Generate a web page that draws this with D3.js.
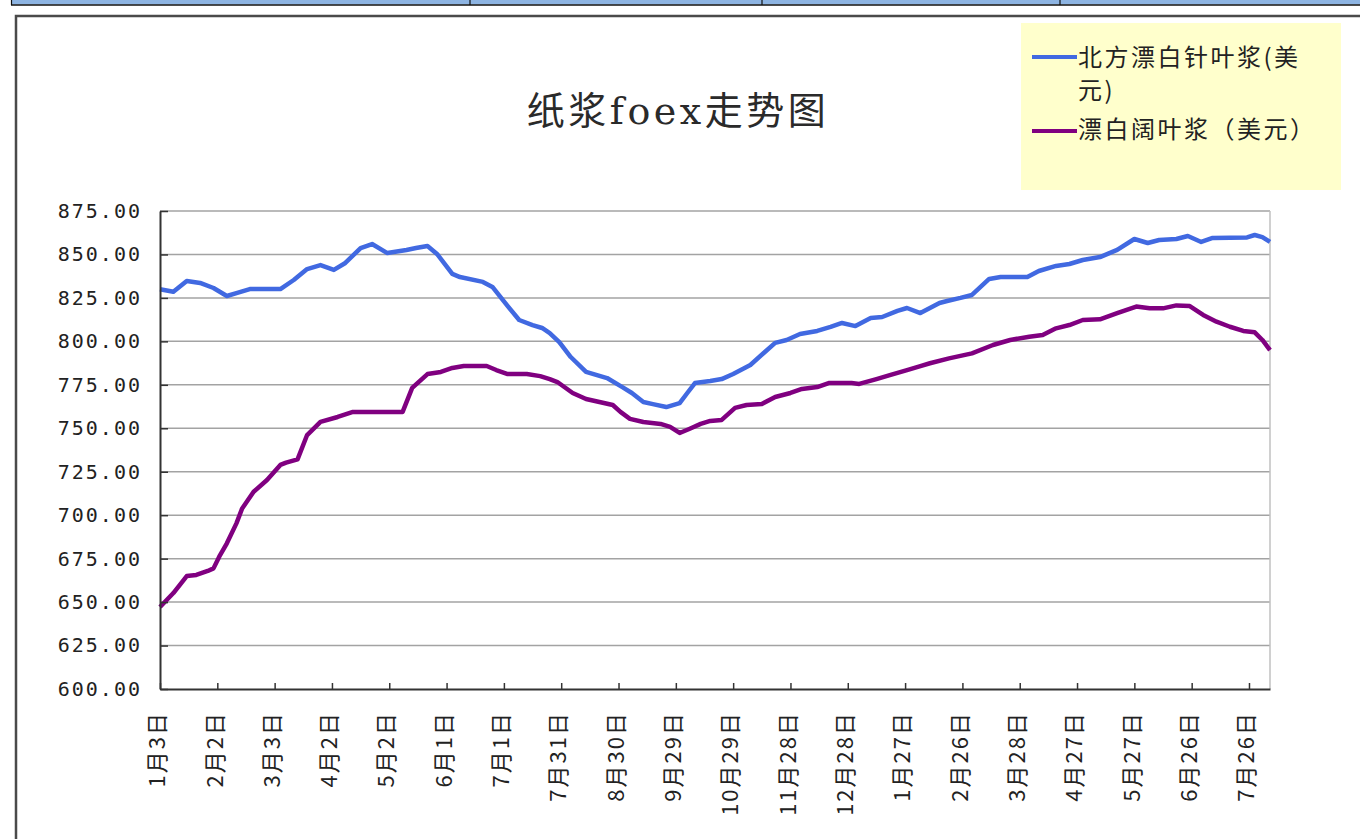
<!doctype html>
<html>
  <head>
    <meta charset="utf-8">
    <script src="https://d3js.org/d3.v7.min.js"></script>
    <style>
      body { margin: 0; background: #fff; }
      svg { display: block; }
      .ylab text { font-family: "DejaVu Sans Mono", monospace; font-size: 20px; letter-spacing: 2px; fill: #222; }
      .xlab text { font-family: "Noto Sans CJK SC", sans-serif; font-size: 22px; letter-spacing: 2px; fill: #222; }
    </style>
  </head>

  <body>
    <svg class="chart" width=1360 height=839></svg>

    <script>
      // readings
      var blueDates = ["2008-01-03","2008-01-10","2008-01-17","2008-01-24","2008-01-31","2008-02-07","2008-02-12","2008-02-19",
        "2008-03-06","2008-03-13","2008-03-20","2008-03-27","2008-04-03","2008-04-09","2008-04-17","2008-04-23","2008-05-01",
        "2008-05-11","2008-05-16","2008-05-22","2008-05-27","2008-06-04","2008-06-08","2008-06-20","2008-06-25","2008-07-03",
        "2008-07-09","2008-07-16","2008-07-21","2008-07-25","2008-07-30","2008-08-05","2008-08-13","2008-08-24","2008-09-01",
        "2008-09-06","2008-09-12","2008-09-17","2008-09-24","2008-10-01","2008-10-05","2008-10-09","2008-10-17","2008-10-23",
        "2008-10-29","2008-11-07","2008-11-14","2008-11-20","2008-11-26","2008-12-03","2008-12-12","2008-12-19","2008-12-25",
        "2009-01-01","2009-01-09","2009-01-15","2009-01-23","2009-01-28","2009-02-04","2009-02-09","2009-02-14","2009-02-18",
        "2009-02-25","2009-03-03","2009-03-12","2009-03-18","2009-04-01","2009-04-07","2009-04-16","2009-04-23","2009-04-30",
        "2009-05-09","2009-05-18","2009-05-27","2009-06-03","2009-06-09","2009-06-18","2009-06-24","2009-07-01","2009-07-07",
        "2009-07-25","2009-07-29","2009-08-02","2009-08-06"];
      var blueValues = [830.0,828.5,834.7,833.6,830.7,826.1,827.8,830.1,
        830.1,835.3,841.6,843.9,841.1,845.1,853.7,856.0,850.8,
        852.6,853.7,854.9,850.3,838.8,837.0,834.2,831.3,820.3,
        812.3,809.4,807.7,804.8,799.6,791.0,782.4,778.9,773.7,
        770.3,765.1,763.9,762.2,764.5,770.3,776.0,777.2,778.3,
        781.2,786.4,793.3,799.1,800.8,804.2,806.0,808.3,810.6,
        808.8,813.4,814.0,817.5,819.2,816.3,819.2,822.1,823.2,
        825.0,826.7,835.9,837.0,837.0,840.5,843.4,844.5,846.8,
        848.5,852.6,858.9,856.6,858.3,858.9,860.6,857.2,859.5,
        859.8,861.2,860.0,857.2];

      var purpleDates = ["2008-01-03","2008-01-10","2008-01-17","2008-01-22","2008-01-28","2008-01-31","2008-02-03","2008-02-07",
        "2008-02-12","2008-02-15","2008-02-21","2008-02-28","2008-03-06","2008-03-09","2008-03-15","2008-03-20","2008-03-27",
        "2008-04-05","2008-04-13","2008-05-09","2008-05-14","2008-05-22","2008-05-29","2008-06-04","2008-06-10","2008-06-22",
        "2008-06-27","2008-07-03","2008-07-13","2008-07-20","2008-07-25","2008-07-29","2008-08-06","2008-08-13","2008-08-20",
        "2008-08-27","2008-08-31","2008-09-05","2008-09-12","2008-09-21","2008-09-26","2008-10-01","2008-10-06","2008-10-12",
        "2008-10-17","2008-10-23","2008-10-30","2008-11-05","2008-11-13","2008-11-20","2008-11-28","2008-12-04","2008-12-12",
        "2008-12-18","2008-12-30","2009-01-03","2009-01-12","2009-01-19","2009-01-28","2009-02-04","2009-02-09","2009-02-19",
        "2009-03-03","2009-03-14","2009-03-23","2009-04-02","2009-04-09","2009-04-16","2009-04-23","2009-04-30","2009-05-09",
        "2009-05-18","2009-05-28","2009-06-04","2009-06-11","2009-06-18","2009-06-25","2009-07-02","2009-07-09","2009-07-16",
        "2009-07-23","2009-07-29","2009-08-02","2009-08-06"];
      var purpleValues = [647.2,655.2,665.0,665.6,667.9,669.4,676.1,683.8,
        695.3,703.9,713.5,720.2,728.9,730.2,732.1,746.1,753.7,
        756.5,759.4,759.4,773.2,781.2,782.4,784.7,785.8,785.8,
        783.5,781.2,781.2,780.0,778.3,776.6,770.3,766.8,765.1,
        763.4,759.4,755.4,753.6,752.5,750.8,747.3,749.6,752.5,
        754.2,754.8,761.7,763.4,764.0,768.0,770.3,772.6,773.7,
        776.0,776.0,775.5,778.3,780.6,783.5,785.8,787.4,790.2,
        793.1,797.9,800.8,802.7,803.7,807.5,809.4,812.3,812.7,
        816.2,820.0,819.0,819.0,820.7,820.3,815.2,811.3,808.4,
        806.0,805.2,800.8,795.0];

      var tickDates = ["2008-01-03","2008-02-02","2008-03-03","2008-04-02","2008-05-02","2008-06-01","2008-07-01",
        "2008-07-31","2008-08-30","2008-09-29","2008-10-29","2008-11-28","2008-12-28","2009-01-27","2009-02-26",
        "2009-03-28","2009-04-27","2009-05-27","2009-06-26","2009-07-26"];
      var tickLabels = ["1月3日","2月2日","3月3日","4月2日","5月2日","6月1日","7月1日","7月31日","8月30日","9月29日",
        "10月29日","11月28日","12月28日","1月27日","2月26日","3月28日","4月27日","5月27日","6月26日","7月26日"];
      var yTicks = [600, 625, 650, 675, 700, 725, 750, 775, 800, 825, 850, 875];
      var seriesNames = ["北方漂白针叶浆(美元)", "漂白阔叶浆（美元）"];

      var parse = d3.utcParse("%Y-%m-%d");
      var svg = d3.select("svg");

      // spreadsheet row strip above the chart
      svg.append("rect").attr("x", 11).attr("y", 0).attr("width", 1349).attr("height", 4.5).attr("fill", "#8db4e2");
      svg.append("line").attr("x1", 11).attr("x2", 1360).attr("y1", 5).attr("y2", 5).attr("stroke", "#111").attr("stroke-width", 1.5);
      [11.5, 470, 762, 1060].forEach(function(cx){
        svg.append("line").attr("x1", cx).attr("x2", cx).attr("y1", 0).attr("y2", 5).attr("stroke", "#111").attr("stroke-width", 1.2);
      });

      // chart frame
      svg.append("path").attr("d", "M16,845V16H1370").attr("fill", "none").attr("stroke", "#4a4a4a").attr("stroke-width", 2.5);

      var plotL = 160, plotR = 1270, plotT = 211, plotB = 689;
      var x = d3.scaleUtc().domain([parse("2008-01-03"), parse("2009-08-06")]).range([plotL, plotR]);
      var y = d3.scaleLinear().domain([600, 875]).range([plotB, plotT]);

      // grid
      svg.append("g").selectAll("line").data(yTicks.slice(1)).enter().append("line")
        .attr("x1", plotL).attr("x2", plotR)
        .attr("y1", function(d){return y(d);}).attr("y2", function(d){return y(d);})
        .attr("stroke", "#a3a3a3").attr("stroke-width", 1.5);
      svg.append("line").attr("x1", plotR).attr("x2", plotR).attr("y1", plotT).attr("y2", plotB)
        .attr("stroke", "#c0c0c0").attr("stroke-width", 1.5);

      // title
      svg.append("text").attr("x", 678).attr("y", 124).attr("text-anchor", "middle")
        .style("font-family", "'DejaVu Serif', 'Noto Sans CJK SC', serif").style("font-size", "38px")
        .style("letter-spacing", "3.5px").attr("fill", "#2a2a2a").text("纸浆foex走势图");

      // lines
      var line = d3.line().x(function(d){return x(d[0]);}).y(function(d){return y(d[1]);});
      var blue = blueDates.map(function(d, i){return [parse(d), blueValues[i]];});
      var purple = purpleDates.map(function(d, i){return [parse(d), purpleValues[i]];});
      var colors = ["#4169e1", "#800080"];
      [blue, purple].forEach(function(s, i){
        svg.append("path").datum(s).attr("d", line).attr("fill", "none")
          .attr("stroke", colors[i]).attr("stroke-width", 4.5).attr("stroke-linejoin", "round");
      });

      // axes
      var ya = svg.append("g").attr("class", "ylab").attr("transform", "translate(" + plotL + ",0)")
        .call(d3.axisLeft(y).tickValues(yTicks).tickSizeInner(-8).tickSizeOuter(0).tickPadding(18)
              .tickFormat(d3.format(".2f")));
      var xa = svg.append("g").attr("class", "xlab").attr("transform", "translate(0," + plotB + ")")
        .call(d3.axisBottom(x).tickValues(tickDates.map(parse)).tickSizeInner(-6).tickSizeOuter(0)
              .tickFormat(function(d, i){return tickLabels[i];}));
      xa.selectAll("text")
        .attr("transform", "rotate(-90)")
        .attr("x", -22).attr("y", -3).attr("dy", "0.35em")
        .style("text-anchor", "end");
      [ya, xa].forEach(function(a){
        a.select(".domain").attr("stroke", "#333").attr("stroke-width", 2);
        a.selectAll(".tick line").attr("stroke", "#333").attr("stroke-width", 1.5);
      });

      // legend
      var lg = svg.append("g");
      lg.append("rect").attr("x", 1021).attr("y", 23).attr("width", 320).attr("height", 167).attr("fill", "#ffffcc");
      lg.append("line").attr("x1", 1032).attr("x2", 1077).attr("y1", 57).attr("y2", 57).attr("stroke", colors[0]).attr("stroke-width", 4);
      lg.append("line").attr("x1", 1032).attr("x2", 1077).attr("y1", 131).attr("y2", 131).attr("stroke", colors[1]).attr("stroke-width", 4);
      var lt = lg.append("text").style("font-family", "'Noto Sans CJK SC', sans-serif").style("font-size", "24px")
        .style("letter-spacing", "2.5px").attr("fill", "#222");
      lt.append("tspan").attr("x", 1078).attr("y", 66).text(seriesNames[0].slice(0, 9));
      lt.append("tspan").attr("x", 1078).attr("y", 99).text(seriesNames[0].slice(9));
      lt.append("tspan").attr("x", 1078).attr("y", 138).text(seriesNames[1]);
    </script>
  </body>
</html>
